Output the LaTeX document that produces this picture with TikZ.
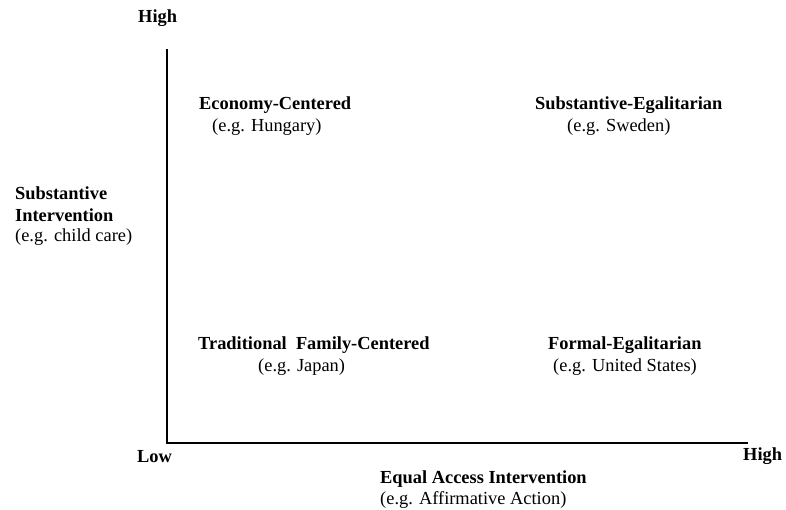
\documentclass[tikz,border=0pt]{standalone}
\usepackage{fontspec}
\setmainfont{Liberation Serif}
\begin{document}
\begin{tikzpicture}[x=1pt,y=-1pt,
  lbl/.style={inner sep=0pt,anchor=west,font=\fontsize{18.4}{22}\selectfont},
  blbl/.style={lbl,font=\fontsize{18.4}{22}\selectfont\bfseries},
  axis/.style={line width=2.6pt}]
\useasboundingbox (0,0) rectangle (786,510);
\coordinate (ytop) at (167,49);
\coordinate (orig) at (167,443);
\coordinate (xend) at (748,443);
\draw[axis] (ytop) -- (orig) -- (xend);
\node[blbl] (hightop) at (138,18) {High};
\node[blbl] (low) at (137,457) {Low};
\node[blbl] (highright) at (743,456) {High};
\node[blbl] (ylab1) at (15,193) {Substantive};
\node[blbl] (ylab2) at (15,215) {Intervention};
\node[lbl] (ylab3) at (15,237) {(e.g. child care)};
\node[blbl] (xlab1) at (380,479) {Equal Access Intervention};
\node[lbl] (xlab2) at (380,500) {(e.g. Affirmative Action)};
\node[blbl] (ec) at (199,105) {Economy-Centered};
\node[lbl] (ece) at (212,127) {(e.g. Hungary)};
\node[blbl] (se) at (535,105) {Substantive-Egalitarian};
\node[lbl] (see) at (567,127) {(e.g. Sweden)};
\node[blbl] (tf) at (198,345) {Traditional\ \ Family-Centered};
\node[lbl] (tfe) at (258,367) {(e.g. Japan)};
\node[blbl] (fe) at (548,345) {Formal-Egalitarian};
\node[lbl] (fee) at (553,367) {(e.g. United States)};
\end{tikzpicture}
\end{document}
